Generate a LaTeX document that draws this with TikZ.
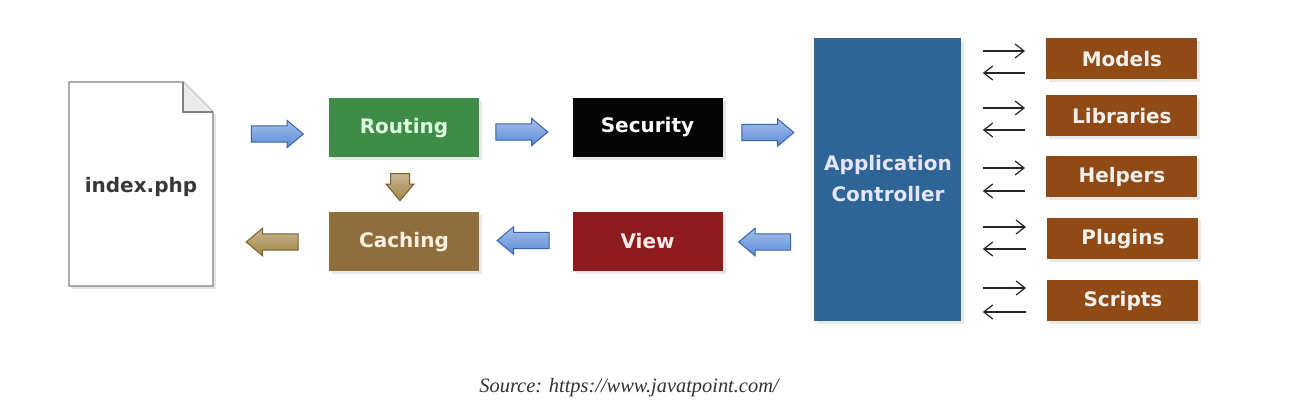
\documentclass[tikz,border=0pt]{standalone}
\usepackage{fontspec}
\setmainfont{DejaVu Sans}
\newfontfamily\capfont{Liberation Serif}
\usetikzlibrary{shapes.arrows,shadows,arrows.meta}
\definecolor{routeg}{HTML}{3E8C48}
\definecolor{secblk}{HTML}{050505}
\definecolor{cachb}{HTML}{8D6E3C}
\definecolor{viewr}{HTML}{8E1B1E}
\definecolor{appb}{HTML}{2F6497}
\definecolor{libb}{HTML}{8F4A15}
\definecolor{arrowbl}{HTML}{5B8BD8}
\definecolor{arrowbd}{HTML}{3A62A8}
\definecolor{arrowbr}{HTML}{A38446}
\definecolor{arrowbrd}{HTML}{7A5F2A}
\tikzset{
  box/.style={rectangle, inner sep=0pt, minimum width=75pt, minimum height=29.5pt,
    font=\bfseries\fontsize{10}{12}\selectfont,
    drop shadow={opacity=0.18, shadow xshift=1.5pt, shadow yshift=-1.5pt}},
  sidebox/.style={rectangle, inner sep=0pt, minimum width=75.5pt, minimum height=20.5pt,
    fill=libb, text=white!92!libb, font=\bfseries\fontsize{10}{12}\selectfont,
    drop shadow={opacity=0.18, shadow xshift=1.5pt, shadow yshift=-1.5pt}},
  fat/.style={single arrow, inner xsep=0pt, inner ysep=3.8pt, minimum height=26pt,
    single arrow head extend=2.8pt, single arrow tip angle=80, line width=0.5pt},
  blue arrow/.style={fat, draw=arrowbd, top color=arrowbl!55!white, bottom color=arrowbl},
  brown arrow/.style={fat, draw=arrowbrd, top color=arrowbr!60!white, bottom color=arrowbr},
  thin/.style={line width=0.6pt, -{Straight Barb[length=4.5pt,width=7pt]}, black!85}
}
\begin{document}
\begin{tikzpicture}[x=0.5pt,y=-0.5pt]
\path[use as bounding box, fill=white] (0,0) rectangle (1304,410);

% index.php document
\fill[black, opacity=0.10] (72,85) -- (186,85) -- (216,115) -- (216,289) -- (72,289) -- cycle;
\draw[black!50, line width=0.7pt, fill=white] (69,82) -- (183,82) -- (213,112) -- (213,286) -- (69,286) -- cycle;
\draw[black!50, line width=0.7pt, fill=black!8] (183,82) -- (183,112) -- (213,112);
\node[font=\bfseries\fontsize{10}{12}\selectfont, text=black!78] (index) at (141,187) {index.php};

% main boxes
\node[box, fill=routeg, text=white!88!green] (routing) at (404,128) {Routing};
\node[box, fill=secblk, text=white] (security) at (647.5,127.5) {Security};
\node[box, fill=cachb, text=white!88!orange] (caching) at (404,242) {Caching};
\node[box, fill=viewr, text=white!92!red] (view) at (647.5,241.5) {View};
\node[rectangle, inner sep=0pt, minimum width=73.5pt, minimum height=141.5pt, fill=appb,
      drop shadow={opacity=0.18, shadow xshift=1.5pt, shadow yshift=-1.5pt},
      anchor=north west] (app) at (814,38) {};
\node[text=white!90!blue, font=\bfseries\fontsize{10}{15.5}\selectfont, align=center] (apptext) at (888,179) {Application\\Controller};

% side boxes
\node[sidebox, anchor=north west] (models) at (1046,38) {Models};
\node[sidebox, anchor=north west] (libraries) at (1046,95) {Libraries};
\node[sidebox, anchor=north west] (helpers) at (1046,156) {Helpers};
\node[sidebox, anchor=north west] (plugins) at (1047,218) {Plugins};
\node[sidebox, anchor=north west] (scripts) at (1047,280) {Scripts};

% fat arrows
\node[blue arrow] (a1) at (272.5,134) {};
\node[blue arrow] (a2) at (517,132) {};
\node[blue arrow] (a3) at (763,132.5) {};
\node[blue arrow, shape border rotate=180] (a4) at (769.5,242) {};
\node[blue arrow, shape border rotate=180] (a5) at (528,240.5) {};
\node[brown arrow, shape border rotate=180] (a6) at (277,242) {};
\node[brown arrow, shape border rotate=270, minimum height=13.5pt, inner xsep=4.5pt, inner ysep=0pt, single arrow head extend=2.2pt] (a7) at (400,181.5) {};

% thin arrows
\foreach \bx/\ya/\yb in {models/51/73, libraries/108/130, helpers/168/191, plugins/227/249, scripts/288/312}{
  \draw[thin] ([xshift=10.5pt]app.east |- 0,\ya) -- ([xshift=-10.5pt]\bx.west |- 0,\ya);
  \draw[thin] ([xshift=-10.5pt]\bx.west |- 0,\yb) -- ([xshift=10.5pt]app.east |- 0,\yb);
}

% caption
\node[font=\capfont\itshape\fontsize{10.2}{12}\selectfont, text=black!80] (caption) at (629,388) {Source: https://www.javatpoint.com/};
\end{tikzpicture}
\end{document}
